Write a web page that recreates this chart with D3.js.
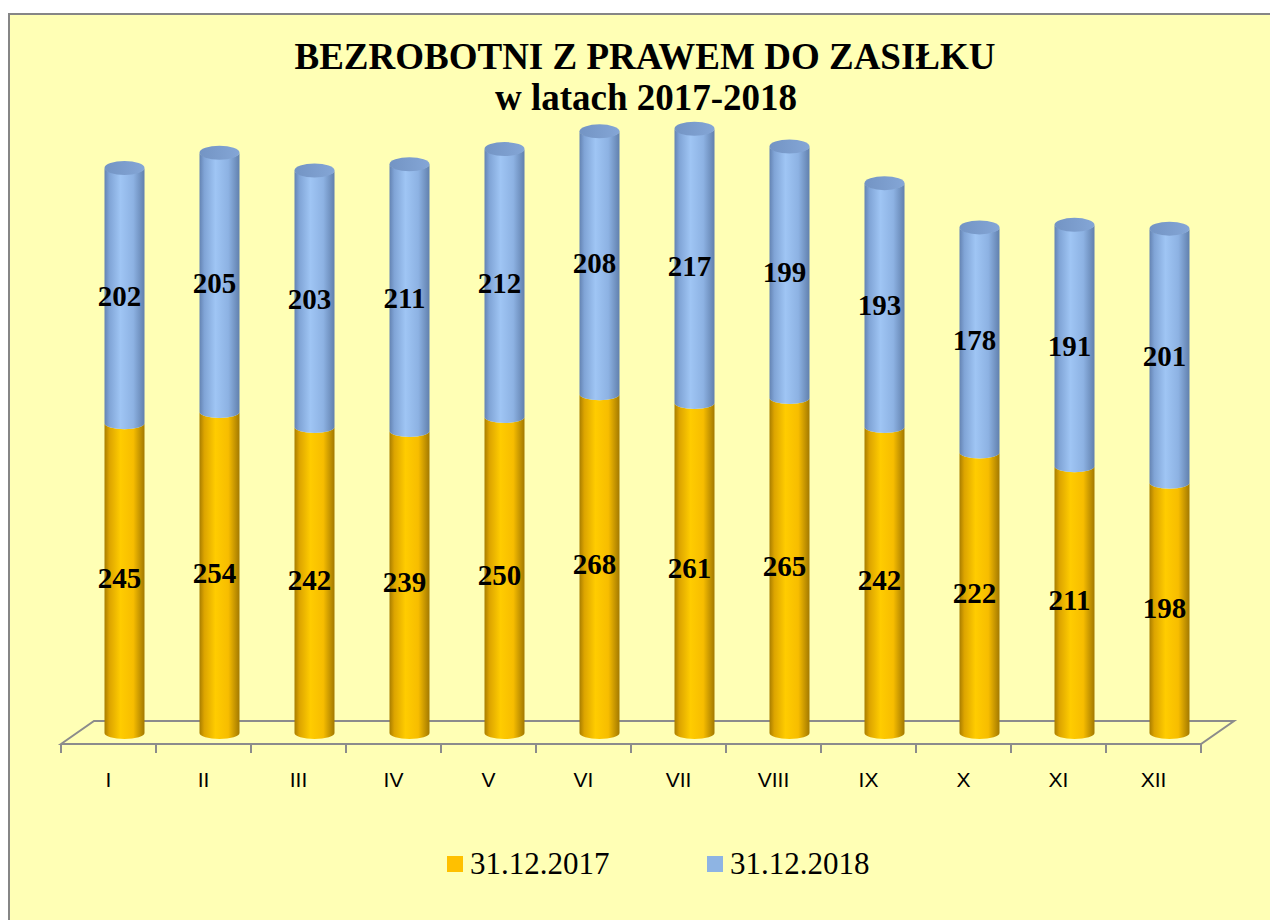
<!DOCTYPE html>
<html>
<head>
<meta charset="utf-8">
<script src="https://cdn.jsdelivr.net/npm/d3@7"></script>
<style>
  body { margin: 0; background: #fff; }
</style>
</head>
<body>
<svg id="chart" width="1270" height="920"></svg>
<script>
const months = ["I", "II", "III", "IV", "V", "VI", "VII", "VIII", "IX", "X", "XI", "XII"];
const values2017 = [245, 254, 242, 239, 250, 268, 261, 265, 242, 222, 211, 198];
const values2018 = [202, 205, 203, 211, 212, 208, 217, 199, 193, 178, 191, 201];
const seriesNames = ["31.12.2017", "31.12.2018"];

const serif = "Liberation Serif, Times New Roman, serif";
const sans = "Liberation Sans, Arial, sans-serif";

const svg = d3.select("#chart");
const defs = svg.append("defs");

// chart area
svg.append("rect")
    .attr("x", 9).attr("y", 14)
    .attr("width", 1280).attr("height", 920)
    .attr("fill", "#ffffb5")
    .attr("stroke", "#868686")
    .attr("stroke-width", 2);

// title
const title = svg.append("text")
    .attr("text-anchor", "middle")
    .attr("font-family", serif)
    .attr("font-weight", "bold")
    .attr("font-size", 37)
    .attr("fill", "#000");
title.append("tspan").attr("x", 645).attr("y", 69).text("BEZROBOTNI Z PRAWEM DO ZASIŁKU");
title.append("tspan").attr("x", 646).attr("y", 110).text("w latach 2017-2018");

// depth of the 3d floor
const depthX = 33, depthY = -23;
const midX = 16, midY = -11;
const frontY = 744;

const x = d3.scaleBand()
    .domain(months)
    .range([61, 1201]);

const y = d3.scaleLinear()
    .domain([0, 500])
    .range([frontY + midY, frontY + midY - 632]);

const rows = months.map((m, i) => ({ month: m, a: values2017[i], b: values2018[i] }));
const stacked = d3.stack().keys(["a", "b"])(rows);

// gradients for the cylinders
const gradStops = {
    a: [[0, "#a87d00"], [0.12, "#dca400"], [0.4, "#ffcc00"], [0.72, "#f7bd00"], [1, "#a37900"]],
    b: [[0, "#6483b2"], [0.12, "#80a4d6"], [0.4, "#9fc5f4"], [0.72, "#8db2e3"], [1, "#6180ad"]]
};
Object.keys(gradStops).forEach(k => {
    const g = defs.append("linearGradient")
        .attr("id", "grad-" + k)
        .attr("x1", 0).attr("x2", 1).attr("y1", 0).attr("y2", 0);
    gradStops[k].forEach(s => g.append("stop").attr("offset", s[0]).attr("stop-color", s[1]));
});
const topGrad = defs.append("linearGradient")
    .attr("id", "grad-top")
    .attr("x1", 0).attr("x2", 1).attr("y1", 0).attr("y2", 0);
topGrad.append("stop").attr("offset", 0).attr("stop-color", "#7394c4");
topGrad.append("stop").attr("offset", 1).attr("stop-color", "#84a6d6");

// floor
const floor = svg.append("g")
    .attr("fill", "none")
    .attr("stroke", "#8c8c8c")
    .attr("stroke-width", 2);
const x0 = x.range()[0], x1 = x.range()[1];
floor.append("path")
    .attr("d", `M${x0},${frontY} L${x0 + depthX},${frontY + depthY} L${x1 + depthX},${frontY + depthY} L${x1},${frontY} Z`);
const tickPos = months.map(m => x(m)).concat([x1]);
floor.selectAll("line.tick")
    .data(tickPos)
    .join("line")
    .attr("class", "tick")
    .attr("x1", d => d).attr("x2", d => d)
    .attr("y1", frontY).attr("y2", frontY + 9);

// category labels
svg.append("g")
    .selectAll("text")
    .data(months)
    .join("text")
    .attr("x", d => x(d) + x.bandwidth() / 2)
    .attr("y", 787)
    .attr("text-anchor", "middle")
    .attr("font-family", sans)
    .attr("font-size", 21)
    .attr("fill", "#000")
    .text(d => d);

// cylinders
const rx = 20, ry = 6;
const cx = d => x(d.data.month) + x.bandwidth() / 2 + midX;

const segPath = (d) => {
    const c = cx(d);
    const yb = y(d[0]), yt = y(d[1]);
    return `M${c - rx},${yt} L${c - rx},${yb} A${rx},${ry} 0 0,0 ${c + rx},${yb} ` +
        `L${c + rx},${yt} A${rx},${ry} 0 0,1 ${c - rx},${yt} Z`;
};

const bars = svg.append("g");
stacked.forEach(s => {
    bars.append("g")
        .selectAll("path")
        .data(s)
        .join("path")
        .attr("d", segPath)
        .attr("fill", `url(#grad-${s.key})`);
});

// top caps
bars.append("g")
    .selectAll("ellipse")
    .data(stacked[1])
    .join("ellipse")
    .attr("cx", cx)
    .attr("cy", d => y(d[1]))
    .attr("rx", rx)
    .attr("ry", ry + 1)
    .attr("fill", "url(#grad-top)");

// value labels
stacked.forEach(s => {
    svg.append("g")
        .selectAll("text")
        .data(s)
        .join("text")
        .attr("x", d => cx(d) - 5)
        .attr("y", d => (y(d[0]) + y(d[1])) / 2)
        .attr("dy", "0.35em")
        .attr("text-anchor", "middle")
        .attr("font-family", serif)
        .attr("font-weight", "bold")
        .attr("font-size", 29)
        .attr("fill", "#000")
        .text(d => d.data[s.key]);
});

// legend
const legendColors = ["#ffc000", "#8eb4e3"];
const legendX = [447, 707];
const legend = svg.append("g");
seriesNames.forEach((name, i) => {
    legend.append("rect")
        .attr("x", legendX[i]).attr("y", 856)
        .attr("width", 16).attr("height", 16)
        .attr("fill", legendColors[i]);
    legend.append("text")
        .attr("x", legendX[i] + 23)
        .attr("y", 874)
        .attr("font-family", serif)
        .attr("font-size", 31)
        .attr("fill", "#000")
        .text(name);
});
</script>
</body>
</html>
